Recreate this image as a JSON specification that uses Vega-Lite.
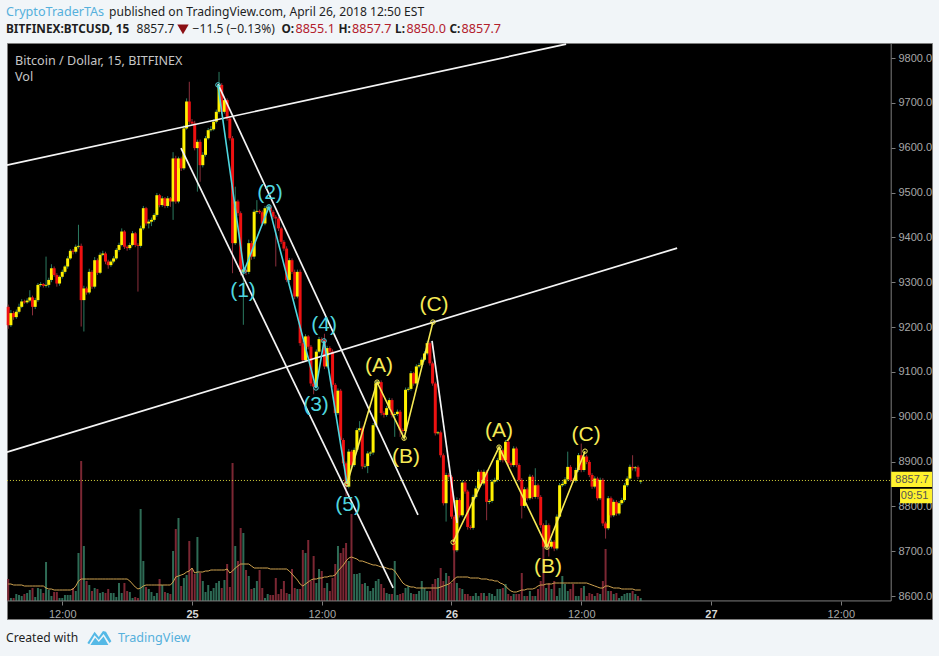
{
  "$schema": "https://vega.github.io/schema/vega-lite/v6.json",
  "autosize": {"type": "none"},
  "width": 925,
  "height": 576,
  "padding": {"left": 7, "top": 43, "right": 7, "bottom": 37},
  "background": "#f1f5f8",
  "view": {"fill": "#000000", "stroke": "#7d7d7d", "strokeWidth": 1},
  "data": {"values": [
    {"t":"2018-04-24T07:00Z","o":9245,"h":9250,"l":9196,"c":9204,"v":22,"m":17},
    {"t":"2018-04-24T07:15Z","o":9204,"h":9238,"l":9200,"c":9231,"v":3,"m":17},
    {"t":"2018-04-24T07:30Z","o":9231,"h":9236,"l":9216,"c":9222,"v":3,"m":16},
    {"t":"2018-04-24T07:45Z","o":9222,"h":9239,"l":9218,"c":9234,"v":7,"m":16},
    {"t":"2018-04-24T08:00Z","o":9234,"h":9252,"l":9230,"c":9245,"v":6,"m":16},
    {"t":"2018-04-24T08:15Z","o":9245,"h":9262,"l":9242,"c":9257,"v":5,"m":16},
    {"t":"2018-04-24T08:30Z","o":9257,"h":9261,"l":9252,"c":9255,"v":7,"m":15},
    {"t":"2018-04-24T08:45Z","o":9255,"h":9264,"l":9252,"c":9259,"v":8,"m":15},
    {"t":"2018-04-24T09:00Z","o":9259,"h":9282,"l":9255,"c":9266,"v":11,"m":15},
    {"t":"2018-04-24T09:15Z","o":9266,"h":9270,"l":9226,"c":9245,"v":13,"m":15},
    {"t":"2018-04-24T09:30Z","o":9245,"h":9265,"l":9240,"c":9260,"v":4,"m":15},
    {"t":"2018-04-24T09:45Z","o":9260,"h":9298,"l":9256,"c":9294,"v":13,"m":15},
    {"t":"2018-04-24T10:00Z","o":9294,"h":9300,"l":9290,"c":9296,"v":12,"m":15},
    {"t":"2018-04-24T10:15Z","o":9296,"h":9298,"l":9288,"c":9292,"v":8,"m":15},
    {"t":"2018-04-24T10:30Z","o":9292,"h":9357,"l":9288,"c":9294,"v":39,"m":13},
    {"t":"2018-04-24T10:45Z","o":9294,"h":9310,"l":9288,"c":9305,"v":11,"m":12},
    {"t":"2018-04-24T11:00Z","o":9305,"h":9340,"l":9300,"c":9331,"v":5,"m":12},
    {"t":"2018-04-24T11:15Z","o":9331,"h":9335,"l":9312,"c":9316,"v":9,"m":11},
    {"t":"2018-04-24T11:30Z","o":9316,"h":9320,"l":9290,"c":9297,"v":9,"m":11},
    {"t":"2018-04-24T11:45Z","o":9297,"h":9315,"l":9292,"c":9312,"v":3,"m":11},
    {"t":"2018-04-24T12:00Z","o":9312,"h":9328,"l":9308,"c":9323,"v":3,"m":11},
    {"t":"2018-04-24T12:15Z","o":9323,"h":9338,"l":9319,"c":9335,"v":6,"m":11},
    {"t":"2018-04-24T12:30Z","o":9335,"h":9358,"l":9330,"c":9353,"v":6,"m":11},
    {"t":"2018-04-24T12:45Z","o":9353,"h":9374,"l":9350,"c":9370,"v":6,"m":11},
    {"t":"2018-04-24T13:00Z","o":9370,"h":9374,"l":9362,"c":9368,"v":13,"m":12},
    {"t":"2018-04-24T13:15Z","o":9368,"h":9384,"l":9364,"c":9379,"v":10,"m":15},
    {"t":"2018-04-24T13:30Z","o":9379,"h":9428,"l":9375,"c":9381,"v":48,"m":20},
    {"t":"2018-04-24T13:45Z","o":9381,"h":9386,"l":9201,"c":9260,"v":140,"m":22},
    {"t":"2018-04-24T14:00Z","o":9260,"h":9292,"l":9190,"c":9286,"v":55,"m":22},
    {"t":"2018-04-24T14:15Z","o":9286,"h":9290,"l":9272,"c":9277,"v":20,"m":22},
    {"t":"2018-04-24T14:30Z","o":9277,"h":9330,"l":9273,"c":9323,"v":16,"m":22},
    {"t":"2018-04-24T14:45Z","o":9323,"h":9327,"l":9285,"c":9290,"v":10,"m":22},
    {"t":"2018-04-24T15:00Z","o":9290,"h":9356,"l":9286,"c":9349,"v":13,"m":22},
    {"t":"2018-04-24T15:15Z","o":9349,"h":9353,"l":9316,"c":9321,"v":12,"m":22},
    {"t":"2018-04-24T15:30Z","o":9321,"h":9366,"l":9318,"c":9361,"v":8,"m":22},
    {"t":"2018-04-24T15:45Z","o":9361,"h":9370,"l":9358,"c":9364,"v":9,"m":22},
    {"t":"2018-04-24T16:00Z","o":9364,"h":9368,"l":9340,"c":9346,"v":8,"m":22},
    {"t":"2018-04-24T16:15Z","o":9346,"h":9350,"l":9330,"c":9338,"v":12,"m":22},
    {"t":"2018-04-24T16:30Z","o":9338,"h":9350,"l":9334,"c":9346,"v":8,"m":22},
    {"t":"2018-04-24T16:45Z","o":9346,"h":9358,"l":9342,"c":9353,"v":8,"m":22},
    {"t":"2018-04-24T17:00Z","o":9353,"h":9376,"l":9350,"c":9372,"v":4,"m":22},
    {"t":"2018-04-24T17:15Z","o":9372,"h":9388,"l":9368,"c":9383,"v":18,"m":22},
    {"t":"2018-04-24T17:30Z","o":9383,"h":9420,"l":9380,"c":9413,"v":8,"m":22},
    {"t":"2018-04-24T17:45Z","o":9413,"h":9416,"l":9374,"c":9379,"v":18,"m":22},
    {"t":"2018-04-24T18:00Z","o":9379,"h":9382,"l":9370,"c":9376,"v":10,"m":22},
    {"t":"2018-04-24T18:15Z","o":9376,"h":9388,"l":9372,"c":9383,"v":9,"m":20},
    {"t":"2018-04-24T18:30Z","o":9383,"h":9414,"l":9380,"c":9409,"v":3,"m":17},
    {"t":"2018-04-24T18:45Z","o":9409,"h":9412,"l":9378,"c":9383,"v":4,"m":14},
    {"t":"2018-04-24T19:00Z","o":9383,"h":9387,"l":9279,"c":9381,"v":3,"m":12},
    {"t":"2018-04-24T19:15Z","o":9381,"h":9426,"l":9377,"c":9420,"v":92,"m":13},
    {"t":"2018-04-24T19:30Z","o":9420,"h":9470,"l":9416,"c":9465,"v":40,"m":15},
    {"t":"2018-04-24T19:45Z","o":9465,"h":9468,"l":9426,"c":9431,"v":14,"m":16},
    {"t":"2018-04-24T20:00Z","o":9431,"h":9440,"l":9420,"c":9435,"v":12,"m":16},
    {"t":"2018-04-24T20:15Z","o":9435,"h":9444,"l":9425,"c":9439,"v":9,"m":16},
    {"t":"2018-04-24T20:30Z","o":9439,"h":9454,"l":9435,"c":9450,"v":5,"m":16},
    {"t":"2018-04-24T20:45Z","o":9450,"h":9499,"l":9446,"c":9494,"v":8,"m":16},
    {"t":"2018-04-24T21:00Z","o":9494,"h":9497,"l":9467,"c":9472,"v":22,"m":16},
    {"t":"2018-04-24T21:15Z","o":9472,"h":9492,"l":9468,"c":9487,"v":16,"m":16},
    {"t":"2018-04-24T21:30Z","o":9487,"h":9490,"l":9465,"c":9470,"v":9,"m":16},
    {"t":"2018-04-24T21:45Z","o":9470,"h":9492,"l":9466,"c":9487,"v":8,"m":16},
    {"t":"2018-04-24T22:00Z","o":9487,"h":9490,"l":9468,"c":9480,"v":7,"m":16},
    {"t":"2018-04-24T22:15Z","o":9480,"h":9590,"l":9439,"c":9576,"v":50,"m":19},
    {"t":"2018-04-24T22:30Z","o":9576,"h":9582,"l":9475,"c":9480,"v":72,"m":24},
    {"t":"2018-04-24T22:45Z","o":9480,"h":9580,"l":9476,"c":9576,"v":83,"m":25},
    {"t":"2018-04-24T23:00Z","o":9576,"h":9580,"l":9548,"c":9554,"v":15,"m":26},
    {"t":"2018-04-24T23:15Z","o":9554,"h":9650,"l":9550,"c":9643,"v":23,"m":27},
    {"t":"2018-04-24T23:30Z","o":9643,"h":9710,"l":9640,"c":9703,"v":26,"m":29},
    {"t":"2018-04-24T23:45Z","o":9703,"h":9747,"l":9652,"c":9658,"v":60,"m":30},
    {"t":"2018-04-25T00:00Z","o":9658,"h":9664,"l":9650,"c":9654,"v":33,"m":33},
    {"t":"2018-04-25T00:15Z","o":9654,"h":9660,"l":9594,"c":9599,"v":27,"m":28},
    {"t":"2018-04-25T00:30Z","o":9599,"h":9618,"l":9502,"c":9613,"v":64,"m":29},
    {"t":"2018-04-25T00:45Z","o":9613,"h":9618,"l":9524,"c":9561,"v":28,"m":29},
    {"t":"2018-04-25T01:00Z","o":9561,"h":9590,"l":9556,"c":9584,"v":20,"m":29},
    {"t":"2018-04-25T01:15Z","o":9584,"h":9626,"l":9580,"c":9621,"v":9,"m":30},
    {"t":"2018-04-25T01:30Z","o":9621,"h":9644,"l":9618,"c":9639,"v":16,"m":30},
    {"t":"2018-04-25T01:45Z","o":9639,"h":9648,"l":9636,"c":9641,"v":10,"m":31},
    {"t":"2018-04-25T02:00Z","o":9641,"h":9663,"l":9638,"c":9658,"v":13,"m":31},
    {"t":"2018-04-25T02:15Z","o":9658,"h":9685,"l":9654,"c":9680,"v":18,"m":31},
    {"t":"2018-04-25T02:30Z","o":9680,"h":9769,"l":9676,"c":9740,"v":20,"m":31},
    {"t":"2018-04-25T02:45Z","o":9740,"h":9744,"l":9675,"c":9680,"v":13,"m":31},
    {"t":"2018-04-25T03:00Z","o":9680,"h":9712,"l":9676,"c":9706,"v":21,"m":31},
    {"t":"2018-04-25T03:15Z","o":9706,"h":9710,"l":9660,"c":9665,"v":37,"m":32},
    {"t":"2018-04-25T03:30Z","o":9665,"h":9670,"l":9616,"c":9621,"v":14,"m":28},
    {"t":"2018-04-25T03:45Z","o":9621,"h":9626,"l":9320,"c":9387,"v":138,"m":30},
    {"t":"2018-04-25T04:00Z","o":9387,"h":9513,"l":9383,"c":9480,"v":55,"m":33},
    {"t":"2018-04-25T04:15Z","o":9480,"h":9484,"l":9448,"c":9454,"v":40,"m":35},
    {"t":"2018-04-25T04:30Z","o":9454,"h":9458,"l":9315,"c":9323,"v":73,"m":37},
    {"t":"2018-04-25T04:45Z","o":9323,"h":9335,"l":9205,"c":9327,"v":68,"m":37},
    {"t":"2018-04-25T05:00Z","o":9327,"h":9333,"l":9316,"c":9323,"v":31,"m":37},
    {"t":"2018-04-25T05:15Z","o":9323,"h":9395,"l":9318,"c":9387,"v":25,"m":37},
    {"t":"2018-04-25T05:30Z","o":9387,"h":9392,"l":9350,"c":9357,"v":12,"m":35},
    {"t":"2018-04-25T05:45Z","o":9357,"h":9462,"l":9352,"c":9457,"v":13,"m":33},
    {"t":"2018-04-25T06:00Z","o":9457,"h":9483,"l":9453,"c":9459,"v":20,"m":33},
    {"t":"2018-04-25T06:15Z","o":9459,"h":9462,"l":9452,"c":9456,"v":31,"m":33},
    {"t":"2018-04-25T06:30Z","o":9456,"h":9460,"l":9426,"c":9431,"v":13,"m":33},
    {"t":"2018-04-25T06:45Z","o":9431,"h":9470,"l":9427,"c":9465,"v":3,"m":33},
    {"t":"2018-04-25T07:00Z","o":9465,"h":9472,"l":9462,"c":9467,"v":7,"m":33},
    {"t":"2018-04-25T07:15Z","o":9467,"h":9471,"l":9452,"c":9457,"v":6,"m":32},
    {"t":"2018-04-25T07:30Z","o":9457,"h":9461,"l":9440,"c":9446,"v":6,"m":32},
    {"t":"2018-04-25T07:45Z","o":9446,"h":9450,"l":9335,"c":9442,"v":23,"m":32},
    {"t":"2018-04-25T08:00Z","o":9442,"h":9446,"l":9414,"c":9420,"v":7,"m":32},
    {"t":"2018-04-25T08:15Z","o":9420,"h":9424,"l":9385,"c":9390,"v":12,"m":32},
    {"t":"2018-04-25T08:30Z","o":9390,"h":9394,"l":9370,"c":9375,"v":20,"m":32},
    {"t":"2018-04-25T08:45Z","o":9375,"h":9380,"l":9300,"c":9305,"v":8,"m":32},
    {"t":"2018-04-25T09:00Z","o":9305,"h":9354,"l":9300,"c":9349,"v":7,"m":30},
    {"t":"2018-04-25T09:15Z","o":9349,"h":9353,"l":9318,"c":9323,"v":32,"m":27},
    {"t":"2018-04-25T09:30Z","o":9323,"h":9328,"l":9262,"c":9268,"v":13,"m":24},
    {"t":"2018-04-25T09:45Z","o":9268,"h":9328,"l":9264,"c":9323,"v":12,"m":21},
    {"t":"2018-04-25T10:00Z","o":9323,"h":9328,"l":9158,"c":9164,"v":12,"m":17},
    {"t":"2018-04-25T10:15Z","o":9164,"h":9170,"l":9120,"c":9126,"v":51,"m":15},
    {"t":"2018-04-25T10:30Z","o":9126,"h":9184,"l":9122,"c":9179,"v":48,"m":17},
    {"t":"2018-04-25T10:45Z","o":9179,"h":9182,"l":9150,"c":9156,"v":61,"m":19},
    {"t":"2018-04-25T11:00Z","o":9156,"h":9160,"l":9068,"c":9074,"v":20,"m":21},
    {"t":"2018-04-25T11:15Z","o":9074,"h":9078,"l":9050,"c":9067,"v":45,"m":22},
    {"t":"2018-04-25T11:30Z","o":9067,"h":9150,"l":9063,"c":9145,"v":18,"m":22},
    {"t":"2018-04-25T11:45Z","o":9145,"h":9178,"l":9141,"c":9173,"v":32,"m":23},
    {"t":"2018-04-25T12:00Z","o":9173,"h":9177,"l":9165,"c":9171,"v":30,"m":23},
    {"t":"2018-04-25T12:15Z","o":9171,"h":9185,"l":9106,"c":9112,"v":13,"m":24},
    {"t":"2018-04-25T12:30Z","o":9112,"h":9158,"l":9108,"c":9153,"v":18,"m":24},
    {"t":"2018-04-25T12:45Z","o":9153,"h":9157,"l":9140,"c":9145,"v":10,"m":25},
    {"t":"2018-04-25T13:00Z","o":9145,"h":9150,"l":9065,"c":9071,"v":23,"m":25},
    {"t":"2018-04-25T13:15Z","o":9071,"h":9075,"l":9002,"c":9008,"v":37,"m":26},
    {"t":"2018-04-25T13:30Z","o":9008,"h":9063,"l":9004,"c":9058,"v":55,"m":30},
    {"t":"2018-04-25T13:45Z","o":9058,"h":9062,"l":8942,"c":8948,"v":48,"m":33},
    {"t":"2018-04-25T14:00Z","o":8948,"h":8952,"l":8890,"c":8896,"v":53,"m":36},
    {"t":"2018-04-25T14:15Z","o":8896,"h":8900,"l":8822,"c":8844,"v":58,"m":40},
    {"t":"2018-04-25T14:30Z","o":8844,"h":8928,"l":8840,"c":8922,"v":40,"m":43},
    {"t":"2018-04-25T14:45Z","o":8922,"h":8926,"l":8885,"c":8892,"v":87,"m":44},
    {"t":"2018-04-25T15:00Z","o":8892,"h":8931,"l":8888,"c":8926,"v":27,"m":43},
    {"t":"2018-04-25T15:15Z","o":8926,"h":8975,"l":8922,"c":8970,"v":27,"m":42},
    {"t":"2018-04-25T15:30Z","o":8970,"h":8990,"l":8966,"c":8974,"v":28,"m":40},
    {"t":"2018-04-25T15:45Z","o":8974,"h":8978,"l":8883,"c":8889,"v":17,"m":40},
    {"t":"2018-04-25T16:00Z","o":8889,"h":8895,"l":8885,"c":8890,"v":18,"m":39},
    {"t":"2018-04-25T16:15Z","o":8890,"h":8923,"l":8874,"c":8918,"v":15,"m":38},
    {"t":"2018-04-25T16:30Z","o":8918,"h":8923,"l":8912,"c":8920,"v":10,"m":37},
    {"t":"2018-04-25T16:45Z","o":8920,"h":8986,"l":8915,"c":8981,"v":13,"m":36},
    {"t":"2018-04-25T17:00Z","o":8981,"h":9079,"l":8977,"c":9074,"v":20,"m":36},
    {"t":"2018-04-25T17:15Z","o":9074,"h":9082,"l":9070,"c":9077,"v":22,"m":35},
    {"t":"2018-04-25T17:30Z","o":9077,"h":9081,"l":9003,"c":9008,"v":17,"m":34},
    {"t":"2018-04-25T17:45Z","o":9008,"h":9012,"l":8998,"c":9004,"v":13,"m":34},
    {"t":"2018-04-25T18:00Z","o":9004,"h":9024,"l":9000,"c":9019,"v":8,"m":33},
    {"t":"2018-04-25T18:15Z","o":9019,"h":9042,"l":9015,"c":9037,"v":7,"m":32},
    {"t":"2018-04-25T18:30Z","o":9037,"h":9041,"l":8998,"c":9004,"v":7,"m":32},
    {"t":"2018-04-25T18:45Z","o":9004,"h":9010,"l":8955,"c":9006,"v":40,"m":30},
    {"t":"2018-04-25T19:00Z","o":9006,"h":9016,"l":9002,"c":9011,"v":6,"m":26},
    {"t":"2018-04-25T19:15Z","o":9011,"h":9015,"l":8955,"c":8970,"v":7,"m":22},
    {"t":"2018-04-25T19:30Z","o":8970,"h":8974,"l":8962,"c":8968,"v":8,"m":18},
    {"t":"2018-04-25T19:45Z","o":8968,"h":9065,"l":8964,"c":9060,"v":13,"m":16},
    {"t":"2018-04-25T20:00Z","o":9060,"h":9066,"l":9056,"c":9062,"v":15,"m":15},
    {"t":"2018-04-25T20:15Z","o":9062,"h":9102,"l":9058,"c":9097,"v":8,"m":14},
    {"t":"2018-04-25T20:30Z","o":9097,"h":9100,"l":9069,"c":9074,"v":7,"m":14},
    {"t":"2018-04-25T20:45Z","o":9074,"h":9117,"l":9070,"c":9112,"v":7,"m":13},
    {"t":"2018-04-25T21:00Z","o":9112,"h":9120,"l":9108,"c":9115,"v":10,"m":13},
    {"t":"2018-04-25T21:15Z","o":9115,"h":9132,"l":9111,"c":9127,"v":20,"m":13},
    {"t":"2018-04-25T21:30Z","o":9127,"h":9146,"l":9123,"c":9141,"v":13,"m":13},
    {"t":"2018-04-25T21:45Z","o":9141,"h":9169,"l":9137,"c":9164,"v":10,"m":13},
    {"t":"2018-04-25T22:00Z","o":9164,"h":9168,"l":9114,"c":9119,"v":10,"m":13},
    {"t":"2018-04-25T22:15Z","o":9119,"h":9123,"l":9069,"c":9074,"v":17,"m":13},
    {"t":"2018-04-25T22:30Z","o":9074,"h":9078,"l":8958,"c":8963,"v":22,"m":13},
    {"t":"2018-04-25T22:45Z","o":8963,"h":8968,"l":8960,"c":8965,"v":23,"m":13},
    {"t":"2018-04-25T23:00Z","o":8965,"h":8969,"l":8909,"c":8914,"v":33,"m":14},
    {"t":"2018-04-25T23:15Z","o":8914,"h":8918,"l":8802,"c":8807,"v":20,"m":15},
    {"t":"2018-04-25T23:30Z","o":8807,"h":8875,"l":8766,"c":8870,"v":28,"m":16},
    {"t":"2018-04-25T23:45Z","o":8870,"h":8874,"l":8860,"c":8866,"v":25,"m":17},
    {"t":"2018-04-26T00:00Z","o":8866,"h":8870,"l":8772,"c":8777,"v":18,"m":19},
    {"t":"2018-04-26T00:15Z","o":8777,"h":8781,"l":8695,"c":8702,"v":52,"m":22},
    {"t":"2018-04-26T00:30Z","o":8702,"h":8820,"l":8698,"c":8814,"v":18,"m":24},
    {"t":"2018-04-26T00:45Z","o":8814,"h":8818,"l":8775,"c":8780,"v":13,"m":24},
    {"t":"2018-04-26T01:00Z","o":8780,"h":8858,"l":8776,"c":8853,"v":12,"m":24},
    {"t":"2018-04-26T01:15Z","o":8853,"h":8857,"l":8828,"c":8833,"v":7,"m":24},
    {"t":"2018-04-26T01:30Z","o":8833,"h":8837,"l":8748,"c":8754,"v":7,"m":24},
    {"t":"2018-04-26T01:45Z","o":8754,"h":8758,"l":8748,"c":8752,"v":5,"m":23},
    {"t":"2018-04-26T02:00Z","o":8752,"h":8826,"l":8748,"c":8821,"v":5,"m":23},
    {"t":"2018-04-26T02:15Z","o":8821,"h":8846,"l":8817,"c":8840,"v":8,"m":23},
    {"t":"2018-04-26T02:30Z","o":8840,"h":8882,"l":8836,"c":8877,"v":5,"m":23},
    {"t":"2018-04-26T02:45Z","o":8877,"h":8881,"l":8846,"c":8851,"v":8,"m":22},
    {"t":"2018-04-26T03:00Z","o":8851,"h":8882,"l":8847,"c":8877,"v":8,"m":22},
    {"t":"2018-04-26T03:15Z","o":8877,"h":8881,"l":8769,"c":8810,"v":5,"m":22},
    {"t":"2018-04-26T03:30Z","o":8810,"h":8816,"l":8805,"c":8812,"v":8,"m":21},
    {"t":"2018-04-26T03:45Z","o":8812,"h":8860,"l":8808,"c":8855,"v":7,"m":21},
    {"t":"2018-04-26T04:00Z","o":8855,"h":8864,"l":8851,"c":8859,"v":5,"m":20},
    {"t":"2018-04-26T04:15Z","o":8859,"h":8908,"l":8855,"c":8903,"v":12,"m":20},
    {"t":"2018-04-26T04:30Z","o":8903,"h":8930,"l":8899,"c":8925,"v":12,"m":18},
    {"t":"2018-04-26T04:45Z","o":8925,"h":8929,"l":8898,"c":8903,"v":13,"m":17},
    {"t":"2018-04-26T05:00Z","o":8903,"h":8948,"l":8899,"c":8944,"v":17,"m":15},
    {"t":"2018-04-26T05:15Z","o":8944,"h":8948,"l":8891,"c":8896,"v":7,"m":12},
    {"t":"2018-04-26T05:30Z","o":8896,"h":8900,"l":8887,"c":8892,"v":5,"m":10},
    {"t":"2018-04-26T05:45Z","o":8892,"h":8934,"l":8888,"c":8929,"v":7,"m":9},
    {"t":"2018-04-26T06:00Z","o":8929,"h":8933,"l":8887,"c":8892,"v":7,"m":9},
    {"t":"2018-04-26T06:15Z","o":8892,"h":8896,"l":8854,"c":8859,"v":7,"m":10},
    {"t":"2018-04-26T06:30Z","o":8859,"h":8863,"l":8773,"c":8801,"v":28,"m":11},
    {"t":"2018-04-26T06:45Z","o":8801,"h":8843,"l":8797,"c":8838,"v":5,"m":11},
    {"t":"2018-04-26T07:00Z","o":8838,"h":8842,"l":8813,"c":8818,"v":5,"m":12},
    {"t":"2018-04-26T07:15Z","o":8818,"h":8871,"l":8814,"c":8866,"v":10,"m":12},
    {"t":"2018-04-26T07:30Z","o":8866,"h":8870,"l":8816,"c":8821,"v":5,"m":12},
    {"t":"2018-04-26T07:45Z","o":8821,"h":8885,"l":8817,"c":8847,"v":5,"m":13},
    {"t":"2018-04-26T08:00Z","o":8847,"h":8851,"l":8816,"c":8821,"v":12,"m":15},
    {"t":"2018-04-26T08:15Z","o":8821,"h":8825,"l":8752,"c":8758,"v":20,"m":16},
    {"t":"2018-04-26T08:30Z","o":8758,"h":8762,"l":8704,"c":8710,"v":55,"m":16},
    {"t":"2018-04-26T08:45Z","o":8710,"h":8769,"l":8706,"c":8758,"v":13,"m":17},
    {"t":"2018-04-26T09:00Z","o":8758,"h":8762,"l":8688,"c":8710,"v":18,"m":17},
    {"t":"2018-04-26T09:15Z","o":8710,"h":8726,"l":8706,"c":8721,"v":12,"m":17},
    {"t":"2018-04-26T09:30Z","o":8721,"h":8725,"l":8700,"c":8706,"v":20,"m":18},
    {"t":"2018-04-26T09:45Z","o":8706,"h":8782,"l":8702,"c":8777,"v":5,"m":18},
    {"t":"2018-04-26T10:00Z","o":8777,"h":8852,"l":8773,"c":8847,"v":13,"m":18},
    {"t":"2018-04-26T10:15Z","o":8847,"h":8855,"l":8843,"c":8850,"v":25,"m":18},
    {"t":"2018-04-26T10:30Z","o":8850,"h":8865,"l":8846,"c":8860,"v":17,"m":18},
    {"t":"2018-04-26T10:45Z","o":8860,"h":8922,"l":8856,"c":8888,"v":10,"m":18},
    {"t":"2018-04-26T11:00Z","o":8888,"h":8892,"l":8854,"c":8859,"v":12,"m":18},
    {"t":"2018-04-26T11:15Z","o":8859,"h":8863,"l":8852,"c":8857,"v":17,"m":18},
    {"t":"2018-04-26T11:30Z","o":8857,"h":8886,"l":8853,"c":8881,"v":5,"m":18},
    {"t":"2018-04-26T11:45Z","o":8881,"h":8919,"l":8877,"c":8914,"v":5,"m":18},
    {"t":"2018-04-26T12:00Z","o":8914,"h":8940,"l":8876,"c":8881,"v":13,"m":18},
    {"t":"2018-04-26T12:15Z","o":8881,"h":8916,"l":8877,"c":8911,"v":15,"m":18},
    {"t":"2018-04-26T12:30Z","o":8911,"h":8915,"l":8894,"c":8899,"v":5,"m":18},
    {"t":"2018-04-26T12:45Z","o":8899,"h":8903,"l":8865,"c":8870,"v":8,"m":17},
    {"t":"2018-04-26T13:00Z","o":8870,"h":8874,"l":8839,"c":8844,"v":7,"m":16},
    {"t":"2018-04-26T13:15Z","o":8844,"h":8867,"l":8840,"c":8862,"v":5,"m":15},
    {"t":"2018-04-26T13:30Z","o":8862,"h":8866,"l":8813,"c":8818,"v":8,"m":14},
    {"t":"2018-04-26T13:45Z","o":8818,"h":8864,"l":8814,"c":8859,"v":7,"m":13},
    {"t":"2018-04-26T14:00Z","o":8859,"h":8863,"l":8756,"c":8762,"v":20,"m":13},
    {"t":"2018-04-26T14:15Z","o":8762,"h":8766,"l":8728,"c":8751,"v":52,"m":15},
    {"t":"2018-04-26T14:30Z","o":8751,"h":8823,"l":8747,"c":8818,"v":10,"m":15},
    {"t":"2018-04-26T14:45Z","o":8818,"h":8822,"l":8775,"c":8780,"v":10,"m":14},
    {"t":"2018-04-26T15:00Z","o":8780,"h":8815,"l":8776,"c":8810,"v":7,"m":13},
    {"t":"2018-04-26T15:15Z","o":8810,"h":8814,"l":8779,"c":8784,"v":8,"m":13},
    {"t":"2018-04-26T15:30Z","o":8784,"h":8812,"l":8780,"c":8807,"v":3,"m":13},
    {"t":"2018-04-26T15:45Z","o":8807,"h":8819,"l":8803,"c":8814,"v":5,"m":12},
    {"t":"2018-04-26T16:00Z","o":8814,"h":8852,"l":8810,"c":8847,"v":7,"m":12},
    {"t":"2018-04-26T16:15Z","o":8847,"h":8867,"l":8843,"c":8862,"v":8,"m":12},
    {"t":"2018-04-26T16:30Z","o":8862,"h":8893,"l":8858,"c":8888,"v":8,"m":12},
    {"t":"2018-04-26T16:45Z","o":8888,"h":8914,"l":8880,"c":8885,"v":10,"m":12},
    {"t":"2018-04-26T17:00Z","o":8885,"h":8890,"l":8878,"c":8887,"v":7,"m":11},
    {"t":"2018-04-26T17:15Z","o":8887,"h":8891,"l":8861,"c":8866,"v":5,"m":11},
    {"t":"2018-04-26T17:30Z","o":8855.1,"h":8857.7,"l":8850,"c":8857.7,"v":3,"m":11}
  ]},
  "datasets": {
    "lines": [
      {"id":"top","kind":"channel","t":"2018-04-24T06:53Z","p":9561},
      {"id":"top","kind":"channel","t":"2018-04-26T10:36Z","p":9831},
      {"id":"mid","kind":"channel","t":"2018-04-24T06:53Z","p":8921},
      {"id":"mid","kind":"channel","t":"2018-04-26T20:52Z","p":9376},
      {"id":"fallHigh","kind":"channel","t":"2018-04-25T02:24Z","p":9742},
      {"id":"fallHigh","kind":"channel","t":"2018-04-25T20:54Z","p":8781},
      {"id":"fallLow","kind":"channel","t":"2018-04-24T22:59Z","p":9599},
      {"id":"fallLow","kind":"channel","t":"2018-04-25T18:36Z","p":8618},
      {"id":"drop","kind":"channel","t":"2018-04-25T22:12Z","p":9169},
      {"id":"drop","kind":"channel","t":"2018-04-26T00:31Z","p":8763},
      {"id":"last","kind":"last","t":"2018-04-24T06:53Z","p":8857.7},
      {"id":"last","kind":"last","t":"2018-04-27T16:40Z","p":8857.7},
      {"id":"timeAxis","kind":"frame","t":"2018-04-24T06:53Z","p":8589},
      {"id":"timeAxis","kind":"frame","t":"2018-04-27T16:40Z","p":8589},
      {"id":"priceAxis","kind":"frame","t":"2018-04-27T16:40Z","p":8589},
      {"id":"priceAxis","kind":"frame","t":"2018-04-27T16:40Z","p":9833}
    ],
    "waves": [
      {"id":"w1","kind":"impulse","t":"2018-04-25T02:24Z","p":9740},
      {"id":"w1","kind":"impulse","t":"2018-04-25T04:49Z","p":9325},
      {"id":"w1","kind":"impulse","t":"2018-04-25T07:07Z","p":9468},
      {"id":"w1","kind":"impulse","t":"2018-04-25T11:28Z","p":9064},
      {"id":"w1","kind":"impulse","t":"2018-04-25T12:13Z","p":9169},
      {"id":"w1","kind":"impulse","t":"2018-04-25T14:20Z","p":8850},
      {"id":"w2","kind":"corrective","t":"2018-04-25T14:20Z","p":8850},
      {"id":"w2","kind":"corrective","t":"2018-04-25T17:07Z","p":9077},
      {"id":"w2","kind":"corrective","t":"2018-04-25T19:37Z","p":8952},
      {"id":"w2","kind":"corrective","t":"2018-04-25T22:17Z","p":9211},
      {"id":"w3","kind":"corrective","t":"2018-04-26T00:09Z","p":8720},
      {"id":"w3","kind":"corrective","t":"2018-04-26T04:24Z","p":8932},
      {"id":"w3","kind":"corrective","t":"2018-04-26T08:50Z","p":8709},
      {"id":"w3","kind":"corrective","t":"2018-04-26T12:21Z","p":8923}
    ],
    "waveLabels": [
      {"text":"(1)","kind":"impulse","t":"2018-04-25T04:43Z","p":9280},
      {"text":"(2)","kind":"impulse","t":"2018-04-25T07:13Z","p":9499},
      {"text":"(3)","kind":"impulse","t":"2018-04-25T11:28Z","p":9026},
      {"text":"(4)","kind":"impulse","t":"2018-04-25T12:13Z","p":9204},
      {"text":"(5)","kind":"impulse","t":"2018-04-25T14:26Z","p":8803},
      {"text":"(A)","kind":"corrective","t":"2018-04-25T17:18Z","p":9113},
      {"text":"(B)","kind":"corrective","t":"2018-04-25T19:48Z","p":8910},
      {"text":"(C)","kind":"corrective","t":"2018-04-25T22:23Z","p":9249},
      {"text":"(A)","kind":"corrective","t":"2018-04-26T04:24Z","p":8968},
      {"text":"(B)","kind":"corrective","t":"2018-04-26T08:56Z","p":8665},
      {"text":"(C)","kind":"corrective","t":"2018-04-26T12:27Z","p":8959}
    ],
    "notes": [
      {"text":"CryptoTraderTAs","kind":"link","t":"2018-04-24T06:48Z","p":9903},
      {"text":"published on TradingView.com, April 26, 2018 12:50 EST","kind":"plain","t":"2018-04-24T16:20Z","p":9903},
      {"text":"8857.7","kind":"plain","t":"2018-04-24T18:52Z","p":9864},
      {"text":"−11.5 (−0.13%)","kind":"plain","t":"2018-04-25T00:03Z","p":9864},
      {"text":"8855.1","kind":"price","t":"2018-04-25T09:34Z","p":9864},
      {"text":"8857.7","kind":"price","t":"2018-04-25T14:48Z","p":9864},
      {"text":"8850.0","kind":"price","t":"2018-04-25T19:50Z","p":9864},
      {"text":"8857.7","kind":"price","t":"2018-04-26T00:56Z","p":9864},
      {"text":"Bitcoin / Dollar, 15, BITFINEX","kind":"inset","t":"2018-04-24T07:38Z","p":9794},
      {"text":"Vol","kind":"inset","t":"2018-04-24T07:38Z","p":9758},
      {"text":"Created with","kind":"plain","t":"2018-04-24T06:48Z","p":8506},
      {"text":"TradingView","kind":"link","t":"2018-04-24T17:09Z","p":8506}
    ],
    "boldNotes": [
      {"text":"BITFINEX:BTCUSD, 15","t":"2018-04-24T06:48Z","p":9864},
      {"text":"O:","t":"2018-04-25T08:16Z","p":9864},
      {"text":"H:","t":"2018-04-25T13:33Z","p":9864},
      {"text":"L:","t":"2018-04-25T18:47Z","p":9864},
      {"text":"C:","t":"2018-04-25T23:49Z","p":9864}
    ]
  },
  "encoding": {
    "x": {
      "field": "t",
      "type": "temporal",
      "scale": {"type": "utc", "domain": [1524552804000, 1524860784000], "nice": false, "padding": 0},
      "axis": {
        "title": null,
        "orient": "bottom",
        "offset": -18,
        "domain": false,
        "grid": false,
        "values": [1524571200000, 1524614400000, 1524657600000, 1524700800000, 1524744000000, 1524787200000, 1524830400000],
        "labelExpr": "utchours(datum.value) == 0 ? '' + utcdate(datum.value) : '12:00'",
        "labelFontWeight": {"condition": {"test": "utchours(datum.value) == 0", "value": "bold"}, "value": "normal"},
        "labelColor": {"condition": {"test": "utchours(datum.value) == 0", "value": "#d8d8d8"}, "value": "#a8a8a8"},
        "labelFont": "Liberation Sans",
        "labelFontSize": 11,
        "labelPadding": 3,
        "labelFlush": false,
        "labelOverlap": false,
        "tickColor": "#7d7d7d",
        "tickSize": 4
      }
    }
  },
  "layer": [
    {
      "layer": [
        {
          "mark": {"type": "bar", "size": 2},
          "encoding": {
            "y": {"field": "v", "type": "quantitative", "scale": {"domain": [-18, 558], "nice": false, "zero": false}, "axis": null},
            "color": {"condition": {"test": "datum.c >= datum.o", "value": "#2e6b55"}, "value": "#7b2733"}
          }
        },
        {
          "mark": {"type": "line", "color": "#cfa350", "strokeWidth": 1},
          "encoding": {
            "y": {"field": "m", "type": "quantitative"}
          }
        }
      ]
    },
    {
      "layer": [
        {
          "mark": {"type": "rule", "strokeWidth": 1},
          "encoding": {
            "y": {
              "field": "l",
              "type": "quantitative",
              "scale": {"domain": [8548.7, 9833.5], "nice": false, "zero": false},
              "axis": {
                "title": null,
                "orient": "right",
                "offset": -41,
                "domain": false,
                "grid": false,
                "values": [8600, 8700, 8800, 8900, 9000, 9100, 9200, 9300, 9400, 9500, 9600, 9700, 9800],
                "format": ".1f",
                "labelColor": "#a8a8a8",
                "labelFont": "Liberation Sans",
                "labelFontSize": 11,
                "labelPadding": 3,
                "labelFlush": false,
                "labelOverlap": false,
                "tickColor": "#7d7d7d",
                "tickSize": 4
              }
            },
            "y2": {"field": "h"},
            "color": {"condition": {"test": "datum.c >= datum.o", "value": "#2b7a60"}, "value": "#8c2f3c"}
          }
        },
        {
          "mark": {"type": "bar", "size": 3},
          "encoding": {
            "y": {"field": "o", "type": "quantitative"},
            "y2": {"field": "c"},
            "color": {"condition": {"test": "datum.c >= datum.o", "value": "#fff200"}, "value": "#ee1111"}
          }
        },
        {
          "data": {"name": "lines"},
          "transform": [{"filter": "datum.kind == 'frame'"}],
          "mark": {"type": "line", "color": "#7d7d7d", "strokeWidth": 1},
          "encoding": {
            "y": {"field": "p", "type": "quantitative"},
            "detail": {"field": "id"}
          }
        },
        {
          "data": {"name": "lines"},
          "transform": [{"filter": "datum.kind == 'last'"}],
          "mark": {"type": "line", "color": "#d6d43c", "strokeWidth": 1, "strokeDash": [1, 2]},
          "encoding": {
            "y": {"field": "p", "type": "quantitative"}
          }
        },
        {
          "data": {"name": "lines"},
          "transform": [{"filter": "datum.kind == 'channel'"}],
          "mark": {"type": "line", "color": "#f4f4f4", "strokeWidth": 1.7},
          "encoding": {
            "y": {"field": "p", "type": "quantitative"},
            "detail": {"field": "id"}
          }
        },
        {
          "data": {"name": "waves"},
          "mark": {"type": "line", "strokeWidth": 1.6},
          "encoding": {
            "y": {"field": "p", "type": "quantitative"},
            "detail": {"field": "id"},
            "color": {
              "field": "kind",
              "type": "nominal",
              "scale": {
                "domain": ["impulse", "corrective", "link", "plain", "price", "inset"],
                "range": ["#4fd6df", "#f6ea55", "#55b0dc", "#1e1e1e", "#b3202c", "#c6c6c6"]
              },
              "legend": null
            }
          }
        },
        {
          "data": {"name": "waves"},
          "mark": {"type": "point", "filled": false, "opacity": 1, "size": 20, "strokeWidth": 1},
          "encoding": {
            "y": {"field": "p", "type": "quantitative"},
            "color": {"field": "kind", "type": "nominal", "legend": null}
          }
        },
        {
          "data": {"name": "waveLabels"},
          "mark": {"type": "text", "font": "Liberation Sans", "fontSize": 21, "align": "center", "baseline": "middle"},
          "encoding": {
            "y": {"field": "p", "type": "quantitative"},
            "text": {"field": "text"},
            "color": {"field": "kind", "type": "nominal", "legend": null}
          }
        },
        {
          "data": {"values": [
            {"t":"2018-04-27T16:40Z","t2":"2018-04-27T20:27Z","p":8877,"p2":8843},
            {"t":"2018-04-27T17:29Z","t2":"2018-04-27T20:27Z","p":8839,"p2":8807}
          ], "format": {"parse": {"t": "date", "t2": "date"}}},
          "mark": {"type": "rect", "color": "#fff22e"},
          "encoding": {
            "x2": {"field": "t2"},
            "y": {"field": "p", "type": "quantitative"},
            "y2": {"field": "p2"}
          }
        },
        {
          "data": {"values": [
            {"t":"2018-04-27T18:36Z","p":8857.7,"text":"8857.7"},
            {"t":"2018-04-27T18:50Z","p":8823,"text":"09:51"}
          ]},
          "mark": {"type": "text", "font": "Liberation Sans", "fontSize": 11, "color": "#555555", "align": "center", "baseline": "middle"},
          "encoding": {
            "y": {"field": "p", "type": "quantitative"},
            "text": {"field": "text"}
          }
        },
        {
          "data": {"name": "notes"},
          "transform": [{"filter": "datum.kind != 'plain'"}],
          "mark": {"type": "text", "font": "Noto Sans", "fontSize": 12.6, "align": "left", "baseline": "middle"},
          "encoding": {
            "y": {"field": "p", "type": "quantitative"},
            "text": {"field": "text"},
            "color": {"field": "kind", "type": "nominal", "legend": null}
          }
        },
        {
          "data": {"name": "notes"},
          "transform": [{"filter": "datum.kind == 'plain'"}],
          "mark": {"type": "text", "font": "Noto Sans", "fontSize": 12.1, "align": "left", "baseline": "middle"},
          "encoding": {
            "y": {"field": "p", "type": "quantitative"},
            "text": {"field": "text"},
            "color": {"field": "kind", "type": "nominal", "legend": null}
          }
        },
        {
          "data": {"name": "boldNotes"},
          "mark": {"type": "text", "font": "Noto Sans", "fontSize": 11.8, "fontWeight": "bold", "color": "#1e1e1e", "align": "left", "baseline": "middle"},
          "encoding": {
            "y": {"field": "p", "type": "quantitative"},
            "text": {"field": "text"}
          }
        },
        {
          "data": {"values": [{"t":"2018-04-24T23:10Z","p":9864}]},
          "mark": {"type": "point", "shape": "triangle-down", "filled": true, "opacity": 1, "color": "#8b0f14", "size": 130},
          "encoding": {
            "y": {"field": "p", "type": "quantitative"}
          }
        },
        {
          "data": {"values": [{"t":"2018-04-24T15:26Z","p":8507}]},
          "mark": {
            "type": "point",
            "shape": "M-.75 .6 L-.35 0 L-.05 .35 L.35 -.1 L.75 .6 Z M-1 .45 L-.4 -.5 L-.05 -.05 L.3 -.55 L.55 -.5 L1 .3 L.85 .45 L.35 -.3 L-.05 .2 L-.4 -.2 L-.85 .55 Z",
            "filled": true,
            "opacity": 1,
            "color": "#55b9e6",
            "size": 576
          },
          "encoding": {
            "y": {"field": "p", "type": "quantitative"}
          }
        }
      ]
    }
  ],
  "resolve": {"scale": {"y": "independent"}},
  "config": {
    "axis": {"grid": false},
    "bar": {"binSpacing": 0}
  }
}
